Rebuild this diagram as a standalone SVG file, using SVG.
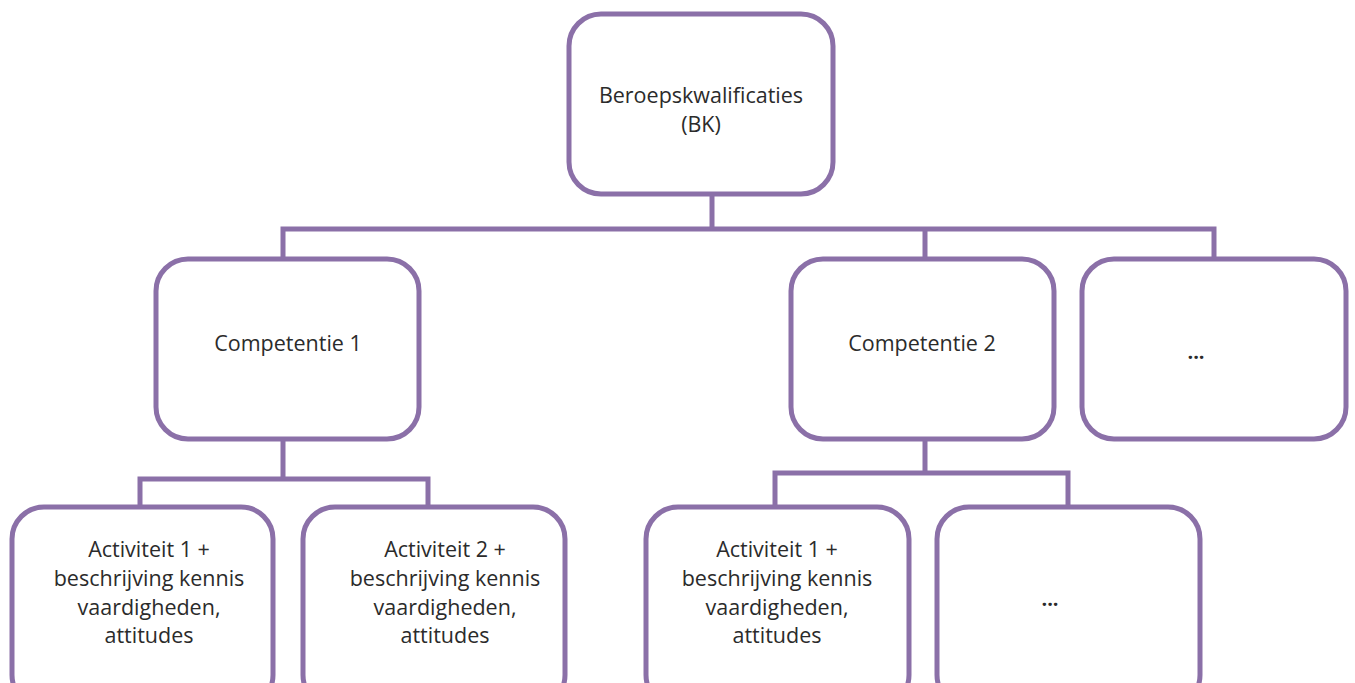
<svg xmlns="http://www.w3.org/2000/svg" width="1355" height="683" viewBox="0 0 1355 683">
<style>
.box{fill:#fff;stroke:#8B70A8;stroke-width:5}
.ln{fill:none;stroke:#8B70A8;stroke-width:5}
text{font-family:"Open Sans","Noto Sans",sans-serif;font-size:21.5px;fill:#2b2b2b;text-anchor:middle}
.dots{font-weight:bold;font-size:20px}
</style>
<rect width="1355" height="683" fill="#fff"/>
<g id="connectors">
<path class="ln" d="M712,195V229M283,258V229H1214V258M925,229V258"/>
<path class="ln" d="M283,440V479M140,506V479H428V506"/>
<path class="ln" d="M925,440V473M775,506V473H1068V506"/>
</g>
<g id="bk"><rect class="box" x="569" y="14" width="264" height="180" rx="32"/>
<text x="701" y="103">Beroepskwalificaties</text><text x="701" y="132">(BK)</text></g>
<g id="comp1"><rect class="box" x="156" y="259" width="263" height="180" rx="32"/>
<text x="288" y="351">Competentie 1</text></g>
<g id="comp2"><rect class="box" x="791" y="259" width="263" height="180" rx="32"/>
<text x="922" y="351">Competentie 2</text></g>
<g id="more1"><rect class="box" x="1082" y="259" width="264" height="180" rx="32"/>
<text class="dots" x="1196" y="359">...</text></g>
<g id="act1"><rect class="box" x="12" y="507" width="261" height="200" rx="32"/>
<text x="149" y="557">Activiteit 1 +</text><text x="149" y="586">beschrijving kennis</text><text x="149" y="615">vaardigheden,</text><text x="149" y="643">attitudes</text></g>
<g id="act2"><rect class="box" x="303" y="507" width="262" height="200" rx="32"/>
<text x="445" y="557">Activiteit 2 +</text><text x="445" y="586">beschrijving kennis</text><text x="445" y="615">vaardigheden,</text><text x="445" y="643">attitudes</text></g>
<g id="act3"><rect class="box" x="646" y="507" width="263" height="200" rx="32"/>
<text x="777" y="557">Activiteit 1 +</text><text x="777" y="586">beschrijving kennis</text><text x="777" y="615">vaardigheden,</text><text x="777" y="643">attitudes</text></g>
<g id="more2"><rect class="box" x="937" y="507" width="263" height="200" rx="32"/>
<text class="dots" x="1050" y="606">...</text></g>
</svg>
